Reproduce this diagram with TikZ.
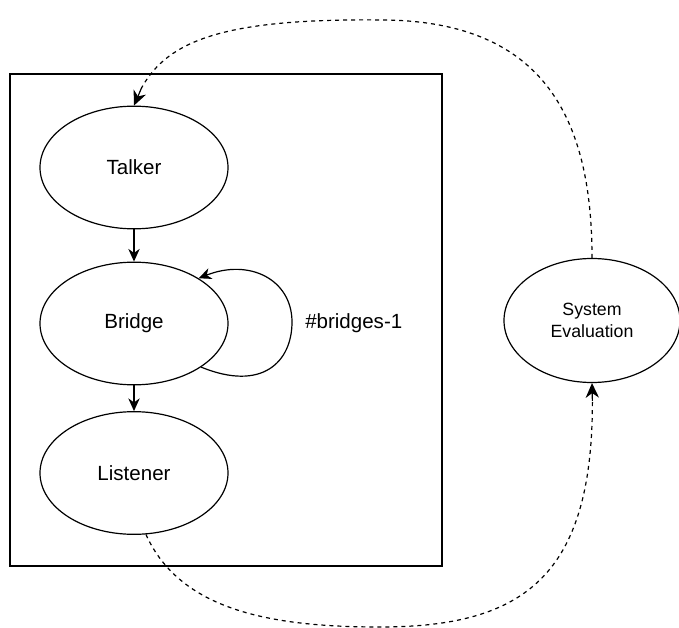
\documentclass[tikz,border=0pt]{standalone}
\usepackage{fontspec}
\setmainfont{Liberation Sans}
\usetikzlibrary{shapes.geometric,arrows.meta}
\begin{document}
\begin{tikzpicture}[x=0.75pt,y=-0.75pt,
  blob/.style={draw,ellipse,line width=0.9pt,inner sep=0pt,minimum width=141pt,minimum height=92pt,font=\fontsize{15.4}{18}\selectfont},
  sysblob/.style={draw,ellipse,line width=0.9pt,inner sep=0pt,minimum width=132pt,minimum height=93pt,align=center,font=\fontsize{13.3}{16}\selectfont},
  frame/.style={draw,line width=0.9pt,inner sep=0pt,minimum width=324pt,minimum height=369pt},
  arr/.style={line width=0.9pt,-{Stealth[length=9.5pt,width=8.5pt,inset=3pt]}},
  bigtip/.style={line width=0.9pt,-{Stealth[length=11pt,width=10pt,inset=3.5pt]}},
  dashline/.style={line width=0.9pt,dash pattern=on 3pt off 3pt},
  lbl/.style={font=\fontsize{15.4}{18}\selectfont,inner sep=0pt}
]
\useasboundingbox (0,0) rectangle (679,628);
\node[frame] (box) at (226,320) {};
\node[blob] (talker) at (134,167.5) {Talker};
\node[blob] (bridge) at (134,323.5) {Bridge};
\node[blob] (listener) at (134,473) {Listener};
\node[sysblob] (sys) at (592,320.5) {System\\Evaluation};
\node[lbl,anchor=west] (loops) at (305,323) {\#bridges-1};
\coordinate (topend) at (141.5,88);
\coordinate (botend) at (592.4,401);
\draw[arr] (talker) -- (bridge);
\draw[arr] (bridge) -- (listener);
\draw[arr] (bridge.-33) .. controls (262,392) and (292,362) .. (292,322)
  .. controls (292,280) and (250,258) .. (bridge.35);
\draw[dashline] (sys.north) .. controls (592,120) and (545,22) .. (385,20)
  .. controls (225,18) and (168,40) .. (topend);
\draw[bigtip] (topend) -- (talker.north);
\draw[dashline] (listener.-79) .. controls (180,610) and (270,627) .. (380,627)
  .. controls (525,627) and (592.6,575) .. (botend);
\draw[bigtip] (botend) -- (sys.south);
\end{tikzpicture}
\end{document}
